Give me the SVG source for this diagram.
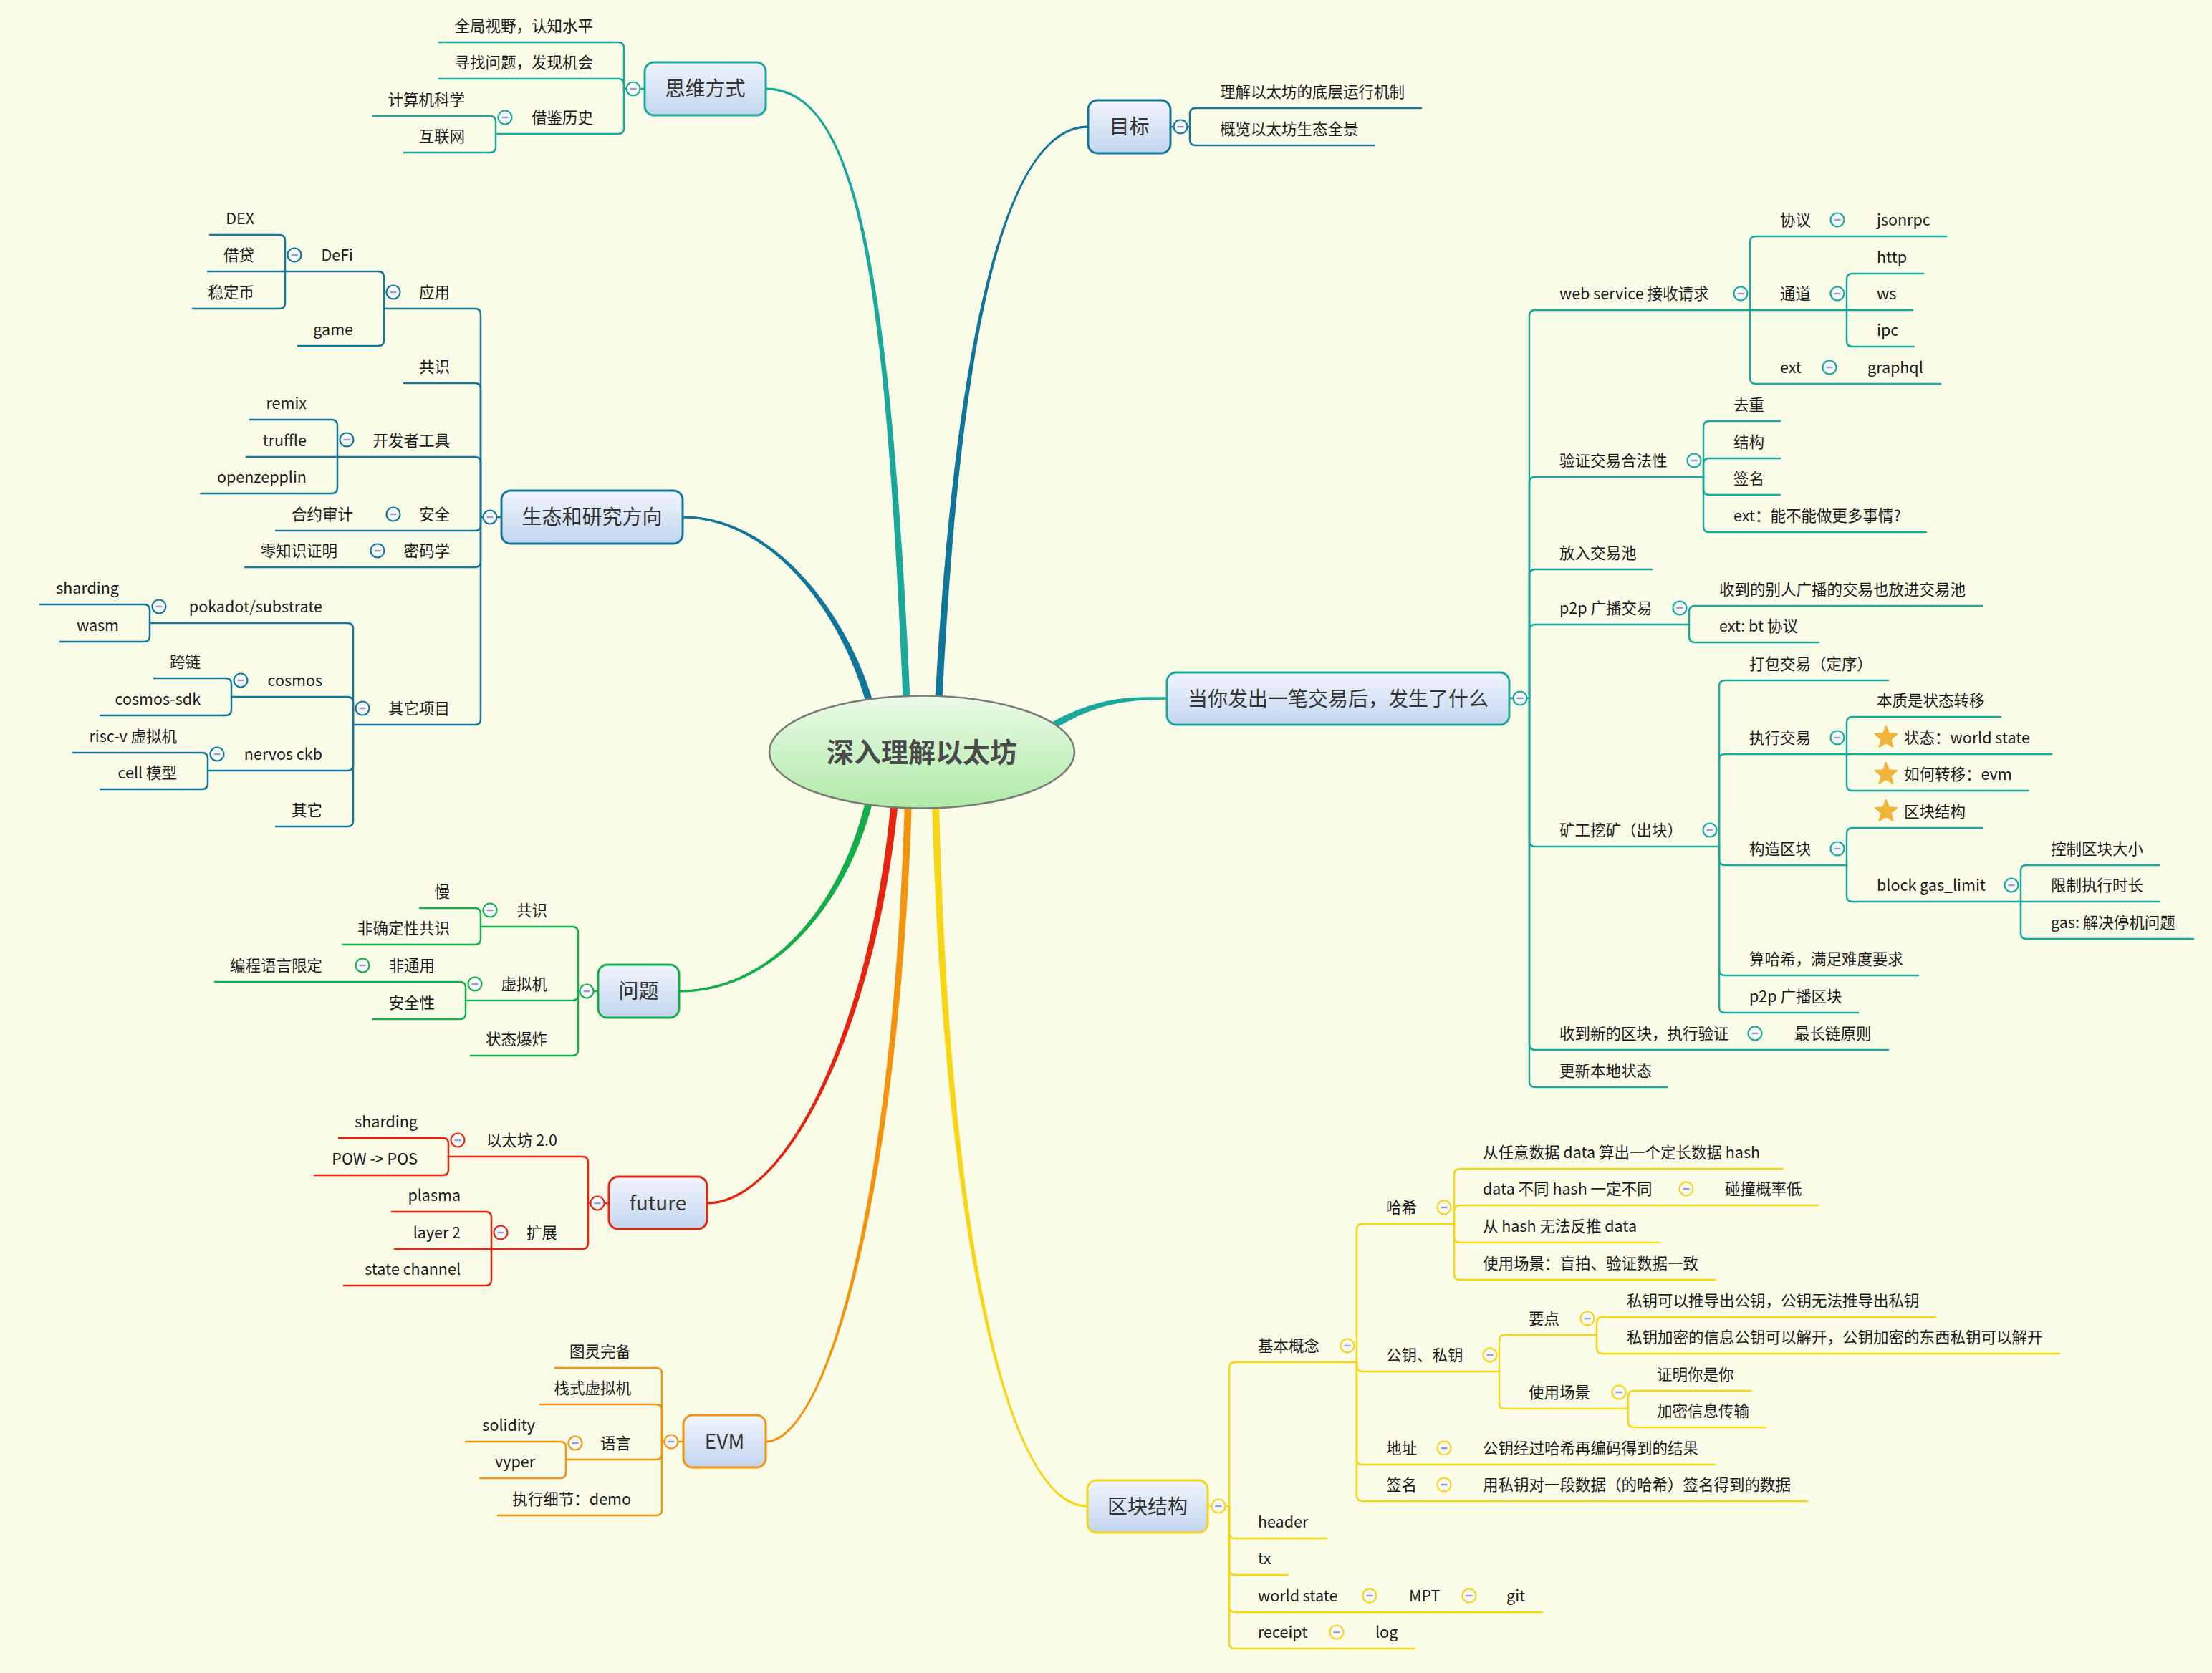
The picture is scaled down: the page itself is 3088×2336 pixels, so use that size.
<svg xmlns="http://www.w3.org/2000/svg" xmlns:xlink="http://www.w3.org/1999/xlink" width="3088" height="2336" viewBox="0 0 3088 2336">
<style>
.t{font-family:"Noto Sans CJK SC","Noto Sans",sans-serif;font-size:21.5px;fill:#1a1a1a;stroke:none}
.e{text-anchor:end}
.m{font-family:"Noto Sans CJK SC","Noto Sans",sans-serif;font-size:28px;fill:#333;text-anchor:middle;stroke:none}
.l{fill:none;stroke-width:2.5;stroke-linecap:round}
.bx{fill:url(#bg);stroke-width:3}
.T{stroke:#19a99b}.B{stroke:#10769a}.G{stroke:#14ae4c}.R{stroke:#e8230f}.O{stroke:#f5930f}.Y{stroke:#f7d616}
</style>
<defs>
<linearGradient id="bg" x1="0" y1="0" x2="0" y2="1"><stop offset="0" stop-color="#f1f5fc"/><stop offset="1" stop-color="#c2d5ef"/></linearGradient>
<linearGradient id="eg" x1="0" y1="0" x2="0" y2="1"><stop offset="0" stop-color="#ebfae8"/><stop offset="1" stop-color="#aeeba5"/></linearGradient>
<g id="cc"><circle r="9.5" fill="#f6f8fd" stroke-width="2.2"/><path d="M-4.5 0H4.5" stroke="#9b9dc6" stroke-width="2.4"/></g>
<polygon id="star" points="0,-16 4.11,-5.66 15.22,-4.94 6.66,2.16 9.4,12.94 0,7 -9.4,12.94 -6.66,2.16 -15.22,-4.94 -4.11,-5.66" fill="#f2b33a" stroke="#f2b33a" stroke-width="2" stroke-linejoin="round"/>
</defs>
<rect width="3088" height="2336" fill="#fbfde9"/>

<g id="connectors">
<g id="main-branches" stroke="none">
<path d="M1271 985 C1244 400 1200 121.5 1069 122.5 L1069 125.5 C1200 126.5 1236 400 1261 985 Z" fill="#19a99b"/>
<path d="M1220.8 986.7 C1185.9 859 1080 719.5 953 720.5 L953 723.5 C1080 724.5 1178.1 861 1211.2 989.3 Z" fill="#10769a"/>
<path d="M1315 985.3 C1334 600.2 1380 179.5 1519 178.5 L1519 175.5 C1380 174.5 1326 599.8 1305 984.7 Z" fill="#10769a"/>
<path d="M1467.5 1020.3 C1532 981.5 1570 977.5 1629 976.5 L1629 973.5 C1570 972.5 1528 974.5 1462.5 1011.7 Z" fill="#19a99b"/>
<path d="M1209.1 1114.8 C1176.1 1259.1 1080 1381.5 948 1382.5 L948 1385.5 C1080 1386.5 1183.9 1260.9 1218.9 1117.2 Z" fill="#14ae4c"/>
<path d="M1244 1117.5 C1216 1429.6 1100 1677.5 987 1678.5 L987 1681.5 C1100 1682.5 1224 1430.4 1254 1118.5 Z" fill="#e8230f"/>
<path d="M1263 1117.8 C1246 1689.9 1150 2010.5 1069 2011.5 L1069 2014.5 C1150 2015.5 1254 1690.1 1273 1118.2 Z" fill="#f5930f"/>
<path d="M1301 1118.1 C1316 1690.1 1400 2105.5 1518 2104.5 L1518 2101.5 C1400 2100.5 1324 1689.9 1311 1117.9 Z" fill="#f7d616"/>
</g>
<g id="main-branch-cores" class="l" stroke-width="3">
<path class="T" d="M1266 985 C1240 400 1200 124 1069 124"/>
<path class="B" d="M1216 988 C1182 860 1080 722 953 722"/>
<path class="B" d="M1310 985 C1330 600 1380 177 1519 177"/>
<path class="T" d="M1465 1016 C1530 978 1570 975 1629 975"/>
<path class="G" d="M1214 1116 C1180 1260 1080 1384 948 1384"/>
<path class="R" d="M1249 1118 C1220 1430 1100 1680 987 1680"/>
<path class="O" d="M1268 1118 C1250 1690 1150 2013 1069 2013"/>
<path class="Y" d="M1306 1118 C1320 1690 1400 2103 1518 2103"/>
</g>
<g class="l T">
<path d="M900 124H871"/>
<path d="M871 124V67Q871 59 863 59H613"/>
<path d="M871 124V118Q871 110 863 110H613"/>
<path d="M871 124V179Q871 187 863 187H692"/>
<path d="M692 187V170Q692 162 684 162H521"/>
<path d="M692 187V205Q692 213 684 213H564"/>
</g>
<g class="l B">
<path d="M1634 177H1661"/>
<path d="M1661 177V159Q1661 151 1669 151H1984"/>
<path d="M1661 177V195Q1661 203 1669 203H1919"/>
</g>
<g class="l B">
<path d="M700 722H671"/>
<path d="M671 722V439Q671 431 663 431H536"/>
<path d="M536 431V387Q536 379 528 379H398"/>
<path d="M398 379V336Q398 328 390 328H293"/>
<path d="M398 379H290"/>
<path d="M398 379V423Q398 431 390 431H269"/>
<path d="M536 431V475Q536 483 528 483H416"/>
<path d="M671 722V543Q671 535 663 535H564"/>
<path d="M671 722V646Q671 638 663 638H471"/>
<path d="M471 638V594Q471 586 463 586H349"/>
<path d="M471 638H344"/>
<path d="M471 638V681Q471 689 463 689H280"/>
<path d="M671 722V733Q671 741 663 741H385"/>
<path d="M671 722V784Q671 792 663 792H342"/>
<path d="M671 722V1004Q671 1012 663 1012H493"/>
<path d="M493 1012V878Q493 870 485 870H209"/>
<path d="M209 870V852Q209 844 201 844H56"/>
<path d="M209 870V888Q209 896 201 896H84"/>
<path d="M493 1012V981Q493 973 485 973H323"/>
<path d="M323 973V955Q323 947 315 947H215"/>
<path d="M323 973V991Q323 999 315 999H140"/>
<path d="M493 1012V1068Q493 1076 485 1076H290"/>
<path d="M290 1076V1059Q290 1051 282 1051H102"/>
<path d="M290 1076V1094Q290 1102 282 1102H140"/>
<path d="M493 1012V1146Q493 1154 485 1154H385"/>
</g>
<g class="l G">
<path d="M835 1384H807"/>
<path d="M807 1384V1302Q807 1294 799 1294H671"/>
<path d="M671 1294V1276Q671 1268 663 1268H586"/>
<path d="M671 1294V1311Q671 1319 663 1319H478"/>
<path d="M807 1384V1389Q807 1397 799 1397H650"/>
<path d="M650 1397V1379Q650 1371 642 1371H300"/>
<path d="M650 1397V1415Q650 1423 642 1423H521"/>
<path d="M807 1384V1466Q807 1474 799 1474H657"/>
</g>
<g class="l R">
<path d="M850 1680H821"/>
<path d="M821 1680V1623Q821 1615 813 1615H626"/>
<path d="M626 1615V1597Q626 1589 618 1589H473"/>
<path d="M626 1615V1633Q626 1641 618 1641H439"/>
<path d="M821 1680V1736Q821 1744 813 1744H686"/>
<path d="M686 1744V1700Q686 1692 678 1692H547"/>
<path d="M686 1744H551"/>
<path d="M686 1744V1787Q686 1795 678 1795H480"/>
</g>
<g class="l O">
<path d="M954 2013H924"/>
<path d="M924 2013V1918Q924 1910 916 1910H775"/>
<path d="M924 2013V1969Q924 1961 916 1961H754"/>
<path d="M924 2013V2030Q924 2038 916 2038H790"/>
<path d="M790 2038V2021Q790 2013 782 2013H650"/>
<path d="M790 2038V2056Q790 2064 782 2064H670"/>
<path d="M924 2013V2108Q924 2116 916 2116H695"/>
</g>
<g class="l T">
<path d="M2107 975H2135"/>
<path d="M2135 975V441Q2135 433 2143 433H2443"/>
<path d="M2443 433V338Q2443 330 2451 330H2717"/>
<path d="M2443 433H2578"/>
<path d="M2578 433V390Q2578 382 2586 382H2685"/>
<path d="M2578 433H2670"/>
<path d="M2578 433V476Q2578 484 2586 484H2672"/>
<path d="M2443 433V528Q2443 536 2451 536H2709"/>
<path d="M2135 975V674Q2135 666 2143 666H2378"/>
<path d="M2378 666V596Q2378 588 2386 588H2485"/>
<path d="M2378 666V648Q2378 640 2386 640H2485"/>
<path d="M2378 666V683Q2378 691 2386 691H2485"/>
<path d="M2378 666V735Q2378 743 2386 743H2689"/>
<path d="M2135 975V803Q2135 795 2143 795H2306"/>
<path d="M2135 975V880Q2135 872 2143 872H2358"/>
<path d="M2358 872V854Q2358 846 2366 846H2767"/>
<path d="M2358 872V889Q2358 897 2366 897H2539"/>
<path d="M2135 975V1174Q2135 1182 2143 1182H2400"/>
<path d="M2400 1182V958Q2400 950 2408 950H2636"/>
<path d="M2400 1182V1061Q2400 1053 2408 1053H2578"/>
<path d="M2578 1053V1009Q2578 1001 2586 1001H2793"/>
<path d="M2578 1053H2864"/>
<path d="M2578 1053V1096Q2578 1104 2586 1104H2831"/>
<path d="M2400 1182V1200Q2400 1208 2408 1208H2578"/>
<path d="M2578 1208V1164Q2578 1156 2586 1156H2767"/>
<path d="M2578 1208V1251Q2578 1259 2586 1259H2821"/>
<path d="M2821 1259V1216Q2821 1208 2829 1208H3015"/>
<path d="M2821 1259H3015"/>
<path d="M2821 1259V1303Q2821 1311 2829 1311H3062"/>
<path d="M2400 1182V1354Q2400 1362 2408 1362H2678"/>
<path d="M2400 1182V1406Q2400 1414 2408 1414H2594"/>
<path d="M2135 975V1458Q2135 1466 2143 1466H2636"/>
<path d="M2135 975V1510Q2135 1518 2143 1518H2327"/>
</g>
<g class="l Y">
<path d="M1686 2103H1716"/>
<path d="M1716 2103V1910Q1716 1902 1724 1902H1894"/>
<path d="M1894 1902V1717Q1894 1709 1902 1709H2030"/>
<path d="M2030 1709V1640Q2030 1632 2038 1632H2489"/>
<path d="M2030 1709V1691Q2030 1683 2038 1683H2538"/>
<path d="M2030 1709V1727Q2030 1735 2038 1735H2317"/>
<path d="M2030 1709V1779Q2030 1787 2038 1787H2394"/>
<path d="M1894 1902V1907Q1894 1915 1902 1915H2093"/>
<path d="M2093 1915V1872Q2093 1864 2101 1864H2229"/>
<path d="M2229 1864V1847Q2229 1839 2237 1839H2702"/>
<path d="M2229 1864V1882Q2229 1890 2237 1890H2875"/>
<path d="M2093 1915V1959Q2093 1967 2101 1967H2273"/>
<path d="M2273 1967V1950Q2273 1942 2281 1942H2444"/>
<path d="M2273 1967V1985Q2273 1993 2281 1993H2465"/>
<path d="M1894 1902V2037Q1894 2045 1902 2045H2394"/>
<path d="M1894 1902V2088Q1894 2096 1902 2096H2523"/>
<path d="M1716 2103V2140Q1716 2148 1724 2148H1852"/>
<path d="M1716 2103V2191Q1716 2199 1724 2199H1798"/>
<path d="M1716 2103V2243Q1716 2251 1724 2251H2153"/>
<path d="M1716 2103V2294Q1716 2302 1724 2302H1975"/>
</g>
</g>

<g id="root">
<ellipse cx="1287" cy="1050" rx="213" ry="78.5" fill="url(#eg)" stroke="#7a7a7a" stroke-width="2.5"/>
<text x="1287" y="1064" text-anchor="middle" font-family="Noto Sans CJK SC,Noto Sans,sans-serif" font-size="38" font-weight="bold" fill="#4a4a4a">深入理解以太坊</text>
</g>

<!-- 思维方式 -->
<g id="n-siwei"><rect class="bx T" x="900" y="87" width="169" height="74" rx="13"/><text class="m" x="984.5" y="134">思维方式</text><use href="#cc" x="884" y="124" stroke="#19a99b"/></g>
<g id="n-siwei-1"><text class="t e" x="828" y="44">全局视野，认知水平</text></g>
<g id="n-siwei-2"><text class="t e" x="828" y="95">寻找问题，发现机会</text></g>
<g id="n-siwei-3"><text class="t e" x="828" y="172">借鉴历史</text><use href="#cc" x="705" y="164" stroke="#19a99b"/></g>
<g id="n-siwei-3-1"><text class="t e" x="649" y="147">计算机科学</text></g>
<g id="n-siwei-3-2"><text class="t e" x="649" y="198">互联网</text></g>

<!-- 目标 -->
<g id="n-mubiao"><rect class="bx B" x="1519" y="140" width="115" height="74" rx="13"/><text class="m" x="1576.5" y="187">目标</text><use href="#cc" x="1648" y="177" stroke="#10769a"/></g>
<g id="n-mubiao-1"><text class="t" x="1703" y="136">理解以太坊的底层运行机制</text></g>
<g id="n-mubiao-2"><text class="t" x="1703" y="188">概览以太坊生态全景</text></g>

<!-- 生态和研究方向 -->
<g id="n-shengtai"><rect class="bx B" x="700" y="685" width="253" height="74" rx="13"/><text class="m" x="826.5" y="732">生态和研究方向</text><use href="#cc" x="684" y="722" stroke="#10769a"/></g>
<g id="n-yingyong"><text class="t e" x="628" y="416">应用</text><use href="#cc" x="549" y="408" stroke="#10769a"/></g>
<g id="n-defi"><text class="t e" x="493" y="364">DeFi</text><use href="#cc" x="411" y="356" stroke="#10769a"/></g>
<g id="n-dex"><text class="t e" x="355" y="313">DEX</text></g>
<g id="n-jiedai"><text class="t e" x="355" y="364">借贷</text></g>
<g id="n-wdb"><text class="t e" x="355" y="416">稳定币</text></g>
<g id="n-game"><text class="t e" x="493" y="468">game</text></g>
<g id="n-gongshi1"><text class="t e" x="628" y="520">共识</text></g>
<g id="n-kaifa"><text class="t e" x="628" y="623">开发者工具</text><use href="#cc" x="484" y="614" stroke="#10769a"/></g>
<g id="n-remix"><text class="t e" x="428" y="571">remix</text></g>
<g id="n-truffle"><text class="t e" x="428" y="623">truffle</text></g>
<g id="n-oz"><text class="t e" x="428" y="674">openzepplin</text></g>
<g id="n-anquan"><text class="t e" x="628" y="726">安全</text><use href="#cc" x="549" y="718" stroke="#10769a"/></g>
<g id="n-heyue"><text class="t e" x="493" y="726">合约审计</text></g>
<g id="n-mima"><text class="t e" x="628" y="777">密码学</text><use href="#cc" x="527" y="769" stroke="#10769a"/></g>
<g id="n-zk"><text class="t e" x="471" y="777">零知识证明</text></g>
<g id="n-qita"><text class="t e" x="628" y="997">其它项目</text><use href="#cc" x="506" y="989" stroke="#10769a"/></g>
<g id="n-pokadot"><text class="t e" x="450" y="855">pokadot/substrate</text><use href="#cc" x="222" y="847" stroke="#10769a"/></g>
<g id="n-sharding1"><text class="t e" x="166" y="829">sharding</text></g>
<g id="n-wasm"><text class="t e" x="166" y="881">wasm</text></g>
<g id="n-cosmos"><text class="t e" x="450" y="958">cosmos</text><use href="#cc" x="336" y="950" stroke="#10769a"/></g>
<g id="n-kualian"><text class="t e" x="280" y="932">跨链</text></g>
<g id="n-cosmossdk"><text class="t e" x="280" y="984">cosmos-sdk</text></g>
<g id="n-nervos"><text class="t e" x="450" y="1061">nervos ckb</text><use href="#cc" x="303" y="1053" stroke="#10769a"/></g>
<g id="n-riscv"><text class="t e" x="247" y="1036">risc-v 虚拟机</text></g>
<g id="n-cell"><text class="t e" x="247" y="1087">cell 模型</text></g>
<g id="n-qita2"><text class="t e" x="450" y="1139">其它</text></g>

<!-- 问题 -->
<g id="n-wenti"><rect class="bx G" x="835" y="1347" width="113" height="74" rx="13"/><text class="m" x="891.5" y="1394">问题</text><use href="#cc" x="819" y="1384" stroke="#14ae4c"/></g>
<g id="n-gongshi2"><text class="t e" x="764" y="1279">共识</text><use href="#cc" x="684" y="1271" stroke="#14ae4c"/></g>
<g id="n-man"><text class="t e" x="628" y="1253">慢</text></g>
<g id="n-fqd"><text class="t e" x="628" y="1304">非确定性共识</text></g>
<g id="n-xnj"><text class="t e" x="764" y="1382">虚拟机</text><use href="#cc" x="663" y="1374" stroke="#14ae4c"/></g>
<g id="n-fty"><text class="t e" x="607" y="1356">非通用</text><use href="#cc" x="506" y="1348" stroke="#14ae4c"/></g>
<g id="n-bcyy"><text class="t e" x="450" y="1356">编程语言限定</text></g>
<g id="n-aqx"><text class="t e" x="607" y="1408">安全性</text></g>
<g id="n-ztbz"><text class="t e" x="764" y="1459">状态爆炸</text></g>

<!-- future -->
<g id="n-future"><rect class="bx R" x="850" y="1643" width="137" height="73" rx="13"/><text class="m" x="918.5" y="1690">future</text><use href="#cc" x="834" y="1680" stroke="#e8230f"/></g>
<g id="n-eth2"><text class="t e" x="778" y="1600">以太坊 2.0</text><use href="#cc" x="639" y="1592" stroke="#e8230f"/></g>
<g id="n-sharding2"><text class="t e" x="583" y="1574">sharding</text></g>
<g id="n-powpos"><text class="t e" x="583" y="1626">POW -&gt; POS</text></g>
<g id="n-kuozhan"><text class="t e" x="778" y="1729">扩展</text><use href="#cc" x="699" y="1721" stroke="#e8230f"/></g>
<g id="n-plasma"><text class="t e" x="643" y="1677">plasma</text></g>
<g id="n-layer2"><text class="t e" x="643" y="1729">layer 2</text></g>
<g id="n-statech"><text class="t e" x="643" y="1780">state channel</text></g>

<!-- EVM -->
<g id="n-evm"><rect class="bx O" x="954" y="1976" width="115" height="73" rx="13"/><text class="m" x="1011.5" y="2023">EVM</text><use href="#cc" x="937" y="2013" stroke="#f5930f"/></g>
<g id="n-tuling"><text class="t e" x="881" y="1895">图灵完备</text></g>
<g id="n-zhanshi"><text class="t e" x="881" y="1946">栈式虚拟机</text></g>
<g id="n-yuyan"><text class="t e" x="881" y="2023">语言</text><use href="#cc" x="803" y="2015" stroke="#f5930f"/></g>
<g id="n-solidity"><text class="t e" x="747" y="1998">solidity</text></g>
<g id="n-vyper"><text class="t e" x="747" y="2049">vyper</text></g>
<g id="n-demo"><text class="t e" x="881" y="2101">执行细节：demo</text></g>

<!-- 当你发出一笔交易后 -->
<g id="n-tx"><rect class="bx T" x="1629" y="939" width="478" height="73" rx="13"/><text class="m" x="1868" y="986">当你发出一笔交易后，发生了什么</text><use href="#cc" x="2122" y="975" stroke="#19a99b"/></g>
<g id="n-web"><text class="t" x="2177" y="418">web service 接收请求</text><use href="#cc" x="2430" y="410" stroke="#19a99b"/></g>
<g id="n-xieyi"><text class="t" x="2485" y="315">协议</text><use href="#cc" x="2565" y="307" stroke="#19a99b"/></g>
<g id="n-jsonrpc"><text class="t" x="2620" y="315">jsonrpc</text></g>
<g id="n-tongdao"><text class="t" x="2485" y="418">通道</text><use href="#cc" x="2565" y="410" stroke="#19a99b"/></g>
<g id="n-http"><text class="t" x="2620" y="367">http</text></g>
<g id="n-ws"><text class="t" x="2620" y="418">ws</text></g>
<g id="n-ipc"><text class="t" x="2620" y="469">ipc</text></g>
<g id="n-ext1"><text class="t" x="2485" y="521">ext</text><use href="#cc" x="2554" y="513" stroke="#19a99b"/></g>
<g id="n-graphql"><text class="t" x="2607" y="521">graphql</text></g>
<g id="n-yanzheng"><text class="t" x="2177" y="651">验证交易合法性</text><use href="#cc" x="2365" y="643" stroke="#19a99b"/></g>
<g id="n-quchong"><text class="t" x="2420" y="573">去重</text></g>
<g id="n-jiegou"><text class="t" x="2420" y="625">结构</text></g>
<g id="n-qianming1"><text class="t" x="2420" y="676">签名</text></g>
<g id="n-ext2"><text class="t" x="2420" y="728">ext：能不能做更多事情?</text></g>
<g id="n-jiaoyichi"><text class="t" x="2177" y="780">放入交易池</text></g>
<g id="n-p2p1"><text class="t" x="2177" y="857">p2p 广播交易</text><use href="#cc" x="2345" y="849" stroke="#19a99b"/></g>
<g id="n-shoudao"><text class="t" x="2400" y="831">收到的别人广播的交易也放进交易池</text></g>
<g id="n-bt"><text class="t" x="2400" y="882">ext: bt 协议</text></g>
<g id="n-kuanggong"><text class="t" x="2177" y="1167">矿工挖矿（出块）</text><use href="#cc" x="2387" y="1159" stroke="#19a99b"/></g>
<g id="n-dabao"><text class="t" x="2442" y="935">打包交易（定序）</text></g>
<g id="n-zhixing"><text class="t" x="2442" y="1038">执行交易</text><use href="#cc" x="2565" y="1030" stroke="#19a99b"/></g>
<g id="n-benzhi"><text class="t" x="2620" y="986">本质是状态转移</text></g>
<g id="n-zhuangtai"><use href="#star" x="2633" y="1030"/><text class="t" x="2658" y="1038">状态：world state</text></g>
<g id="n-zhuanyi"><use href="#star" x="2633" y="1081"/><text class="t" x="2658" y="1089">如何转移：evm</text></g>
<g id="n-gouzao"><text class="t" x="2442" y="1193">构造区块</text><use href="#cc" x="2565" y="1185" stroke="#19a99b"/></g>
<g id="n-qkjg"><use href="#star" x="2633" y="1133"/><text class="t" x="2658" y="1141">区块结构</text></g>
<g id="n-gaslimit"><text class="t" x="2620" y="1244">block gas_limit</text><use href="#cc" x="2808" y="1236" stroke="#19a99b"/></g>
<g id="n-kongzhi"><text class="t" x="2863" y="1193">控制区块大小</text></g>
<g id="n-xianzhi"><text class="t" x="2863" y="1244">限制执行时长</text></g>
<g id="n-gas"><text class="t" x="2863" y="1296">gas: 解决停机问题</text></g>
<g id="n-suanhash"><text class="t" x="2442" y="1347">算哈希，满足难度要求</text></g>
<g id="n-p2p2"><text class="t" x="2442" y="1399">p2p 广播区块</text></g>
<g id="n-shoudaoqk"><text class="t" x="2177" y="1451">收到新的区块，执行验证</text><use href="#cc" x="2450" y="1443" stroke="#19a99b"/></g>
<g id="n-zuichang"><text class="t" x="2505" y="1451">最长链原则</text></g>
<g id="n-gengxin"><text class="t" x="2177" y="1503">更新本地状态</text></g>

<!-- 区块结构 -->
<g id="n-block"><rect class="bx Y" x="1518" y="2067" width="168" height="73" rx="13"/><text class="m" x="1602" y="2114">区块结构</text><use href="#cc" x="1701" y="2103" stroke="#f7d616"/></g>
<g id="n-jiben"><text class="t" x="1756" y="1887">基本概念</text><use href="#cc" x="1881" y="1879" stroke="#f7d616"/></g>
<g id="n-haxi"><text class="t" x="1935" y="1694">哈希</text><use href="#cc" x="2016" y="1686" stroke="#f7d616"/></g>
<g id="n-hx1"><text class="t" x="2070" y="1617">从任意数据 data 算出一个定长数据 hash</text></g>
<g id="n-hx2"><text class="t" x="2070" y="1668">data 不同 hash 一定不同</text><use href="#cc" x="2354" y="1660" stroke="#f7d616"/></g>
<g id="n-pengzhuang"><text class="t" x="2408" y="1668">碰撞概率低</text></g>
<g id="n-hx3"><text class="t" x="2070" y="1720">从 hash 无法反推 data</text></g>
<g id="n-hx4"><text class="t" x="2070" y="1772">使用场景：盲拍、验证数据一致</text></g>
<g id="n-gongyao"><text class="t" x="1935" y="1900">公钥、私钥</text><use href="#cc" x="2080" y="1892" stroke="#f7d616"/></g>
<g id="n-yaodian"><text class="t" x="2134" y="1849">要点</text><use href="#cc" x="2216" y="1841" stroke="#f7d616"/></g>
<g id="n-yd1"><text class="t" x="2271" y="1824">私钥可以推导出公钥，公钥无法推导出私钥</text></g>
<g id="n-yd2"><text class="t" x="2271" y="1875">私钥加密的信息公钥可以解开，公钥加密的东西私钥可以解开</text></g>
<g id="n-changjing"><text class="t" x="2134" y="1952">使用场景</text><use href="#cc" x="2260" y="1944" stroke="#f7d616"/></g>
<g id="n-cj1"><text class="t" x="2313" y="1927">证明你是你</text></g>
<g id="n-cj2"><text class="t" x="2313" y="1978">加密信息传输</text></g>
<g id="n-dizhi"><text class="t" x="1935" y="2030">地址</text><use href="#cc" x="2016" y="2022" stroke="#f7d616"/></g>
<g id="n-dizhi1"><text class="t" x="2070" y="2030">公钥经过哈希再编码得到的结果</text></g>
<g id="n-qianming2"><text class="t" x="1935" y="2081">签名</text><use href="#cc" x="2016" y="2073" stroke="#f7d616"/></g>
<g id="n-qm1"><text class="t" x="2070" y="2081">用私钥对一段数据（的哈希）签名得到的数据</text></g>
<g id="n-header"><text class="t" x="1756" y="2133">header</text></g>
<g id="n-txs"><text class="t" x="1756" y="2184">tx</text></g>
<g id="n-ws2"><text class="t" x="1756" y="2236">world state</text><use href="#cc" x="1912" y="2228" stroke="#f7d616"/></g>
<g id="n-mpt"><text class="t" x="1967" y="2236">MPT</text><use href="#cc" x="2051" y="2228" stroke="#f7d616"/></g>
<g id="n-git"><text class="t" x="2103" y="2236">git</text></g>
<g id="n-receipt"><text class="t" x="1756" y="2287">receipt</text><use href="#cc" x="1866" y="2279" stroke="#f7d616"/></g>
<g id="n-log"><text class="t" x="1920" y="2287">log</text></g>
</svg>
